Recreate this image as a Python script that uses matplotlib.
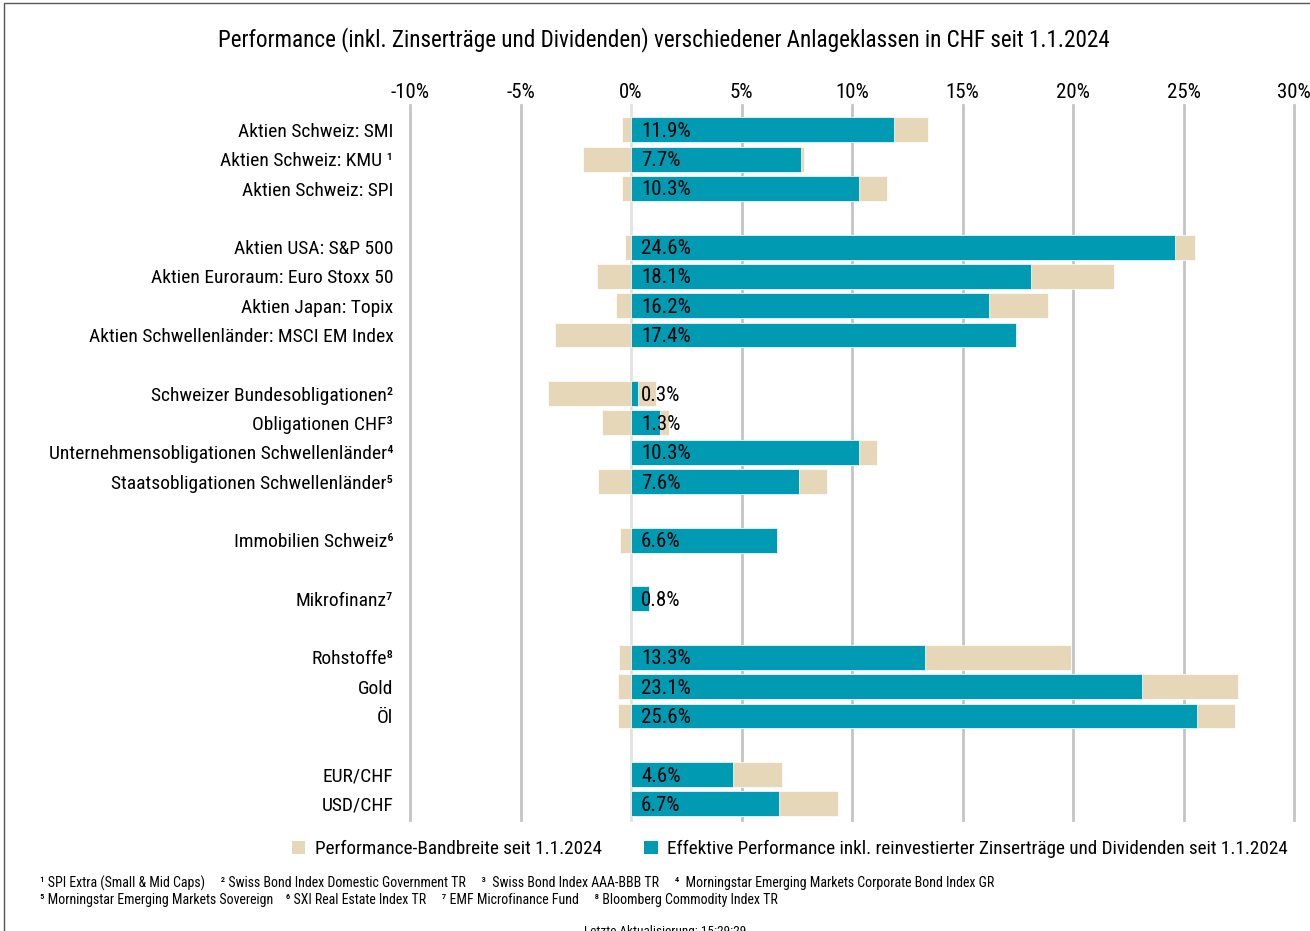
import matplotlib.pyplot as plt
from matplotlib.patches import Patch, Rectangle

plt.rcParams['font.family'] = ['Roboto Condensed', 'Fira Sans Condensed', 'Barlow Semi Condensed', 'DejaVu Sans']

labels = ['Aktien Schweiz: SMI', 'Aktien Schweiz: KMU ¹', 'Aktien Schweiz: SPI', '',
          'Aktien USA: S&P 500', 'Aktien Euroraum: Euro Stoxx 50', 'Aktien Japan: Topix',
          'Aktien Schwellenländer: MSCI EM Index', '',
          'Schweizer Bundesobligationen²', 'Obligationen CHF³',
          'Unternehmensobligationen Schwellenländer⁴', 'Staatsobligationen Schwellenländer⁵', '',
          'Immobilien Schweiz⁶', '', 'Mikrofinanz⁷', '',
          'Rohstoffe⁸', 'Gold', 'Öl', '', 'EUR/CHF', 'USD/CHF']
perf = [11.9, 7.7, 10.3, None, 24.6, 18.1, 16.2, 17.4, None, 0.3, 1.3, 10.3, 7.6, None,
        6.6, None, 0.8, None, 13.3, 23.1, 25.6, None, 4.6, 6.7]
range_min = [-0.4, -2.15, -0.4, None, -0.25, -1.55, -0.67, -3.45, None, -3.75, -1.33, 0.0, -1.5, None,
             -0.51, None, 0.0, None, -0.55, -0.6, -0.6, None, 0.0, 0.0]
range_max = [13.45, 7.85, 11.6, None, 25.5, 21.85, 18.85, 17.4, None, 1.13, 1.73, 11.13, 8.87, None,
             6.6, None, 0.8, None, 19.93, 27.45, 27.35, None, 6.83, 9.37]
ticks = [-10, -5, 0, 5, 10, 15, 20, 25, 30]

teal = '#009AB3'
beige = '#E6D7B8'

fig = plt.figure(figsize=(13.1, 9.31), dpi=100)
ax = fig.add_axes([410 / 1310, 1 - 820 / 931, 884 / 1310, 715 / 931])

for t in ticks:
    ax.axvline(t, color='#E2E2E2' if t == 0 else '#C4C4C4', lw=2, zorder=0, clip_on=False)

for i, v in enumerate(perf):
    if v is None:
        continue
    lo, hi = range_min[i], range_max[i]
    ax.barh(i, hi - lo, left=lo, height=0.85, color=beige, edgecolor='white', lw=0.5, zorder=1)
    ax.barh(i, v, height=0.85, color=teal, edgecolor='white', lw=0.5, zorder=2)
    ax.text(0.45, i + 0.05, f'{v:.1f}%', va='center', ha='left', fontsize=15, color='black', zorder=3)

ax.set_xlim(-10, 30)
ax.set_ylim(23.55, -0.85)
ax.set_yticks(range(len(labels)))
ax.set_yticklabels(labels, fontsize=14)
ax.set_xticks(ticks)
ax.set_xticklabels([f'{t}%' for t in ticks], fontsize=15)
ax.xaxis.tick_top()
ax.tick_params(length=0, axis='x', pad=2.5)
ax.tick_params(length=0, axis='y', pad=12)
for s in ax.spines.values():
    s.set_visible(False)

fig.text(0.507, 1 - 40 / 931, 'Performance (inkl. Zinserträge und Dividenden) verschiedener Anlageklassen in CHF seit 1.1.2024',
         ha='center', va='center', fontsize=16.7)

handles = [Patch(facecolor=beige), Patch(facecolor=teal)]
fig.legend(handles, ['Performance-Bandbreite seit 1.1.2024',
                     'Effektive Performance inkl. reinvestierter Zinserträge und Dividenden seit 1.1.2024'],
           loc='center', bbox_to_anchor=(790 / 1310, 1 - 849 / 931), ncol=2, frameon=False,
           fontsize=13.8, handlelength=0.7, handleheight=0.7, handletextpad=0.5, columnspacing=2.2)

fig.text(40 / 1310, 1 - 883 / 931,
         '¹ SPI Extra (Small & Mid Caps)     ² Swiss Bond Index Domestic Government TR     '
         '³  Swiss Bond Index AAA-BBB TR     ⁴  Morningstar Emerging Markets Corporate Bond Index GR',
         ha='left', va='center', fontsize=10)
fig.text(40 / 1310, 1 - 900 / 931,
         '⁵ Morningstar Emerging Markets Sovereign    ⁶ SXI Real Estate Index TR     '
         '⁷ EMF Microfinance Fund     ⁸ Bloomberg Commodity Index TR',
         ha='left', va='center', fontsize=10)
fig.text(665 / 1310, 1 - 925 / 931, 'Letzte Aktualisierung: 15:29:29', ha='center', va='top', fontsize=9.5)

fig.patches.append(Rectangle((4 / 1310, -0.05), 1.1, 1 - 3 / 931 + 0.05, transform=fig.transFigure,
                             fill=False, edgecolor='#555555', lw=1))

fig.savefig('out.png', dpi=100)
